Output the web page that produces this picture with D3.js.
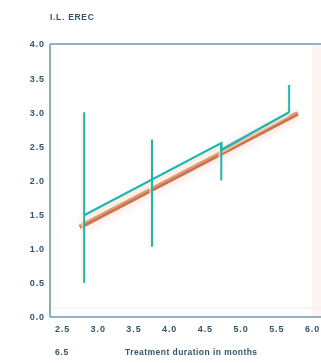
<!DOCTYPE html>
<html>
<head>
<meta charset="utf-8">
<script src="https://cdn.jsdelivr.net/npm/d3@7"></script>
<style>
  html, body { margin: 0; padding: 0; background: #fff; }
  svg { display: block; }
  text { font-family: "Liberation Sans", Arial, sans-serif; fill: #34546a; }
</style>
</head>
<body>
<script>
// Tick labels
const xTicks = [2.5, 3.0, 3.5, 4.0, 4.5, 5.0, 5.5, 6.0];
const yTicks = [0.0, 0.5, 1.0, 1.5, 2.0, 2.5, 3.0, 3.5, 4.0];

// Range bars (months, low, high)
const barMonths = [2.81, 3.76, 4.73, 5.68];
const barLow    = [0.5, 1.03, 2.0, 3.0];
const barHigh   = [3.0, 2.6, 2.55, 3.4];

// Observed trend (teal polyline)
const trendMonths = [2.81, 4.73, 4.73, 5.68];
const trendValues = [1.49, 2.55, 2.45, 3.0];

// Fitted line (orange)
const fitMonths = [2.75, 5.8];
const fitValues = [1.32, 2.98];

const W = 321, H = 363;
const svg = d3.select("body").append("svg").attr("width", W).attr("height", H);

const x = d3.scaleLinear().domain([2.5, 6.0]).range([62, 312]);
const y = d3.scaleLinear().domain([0, 4]).range([317, 44]);

const defs = svg.append("defs");
defs.append("filter").attr("id", "soft").append("feGaussianBlur").attr("stdDeviation", 0.6);
defs.append("filter").attr("id", "haze").append("feGaussianBlur").attr("stdDeviation", 3);
defs.append("filter").attr("id", "txt").append("feGaussianBlur").attr("stdDeviation", 0.35);

// faint background haze at the right edge
svg.append("rect").attr("x", 312).attr("y", 44).attr("width", 9).attr("height", 273)
  .attr("fill", "#fdf1ec").attr("opacity", 0.7);

// frame lines
const frame = svg.append("g").attr("stroke", "#6f9ab0").attr("stroke-width", 1.6).attr("fill", "none");
frame.append("line").attr("x1", 50).attr("x2", W).attr("y1", y(4)).attr("y2", y(4));
frame.append("line").attr("x1", 50).attr("x2", 50).attr("y1", y(4)).attr("y2", y(0));
frame.append("line").attr("x1", 50).attr("x2", W).attr("y1", y(0)).attr("y2", y(0));
svg.append("line").attr("x1", 52).attr("x2", W).attr("y1", y(0) - 9).attr("y2", y(0) - 9)
  .attr("stroke", "#f3ebea").attr("stroke-width", 1);

const styleTicks = sel => sel.attr("font-size", 9).attr("font-weight", "bold").attr("letter-spacing", 0.9)
  .style("fill", "#34546a").attr("font-family", "Liberation Sans, Arial, sans-serif").attr("filter", "url(#txt)");

// y tick labels
const yAxis = d3.axisLeft(y).tickValues(yTicks).tickFormat(d3.format(".1f")).tickSize(0).tickPadding(5);
const gy = svg.append("g").attr("transform", "translate(50,0)").call(yAxis);
gy.select(".domain").remove();
gy.selectAll("text").call(styleTicks);

// x tick labels
const xAxis = d3.axisBottom(x).tickValues(xTicks).tickFormat(d3.format(".1f")).tickSize(0).tickPadding(9);
const gx = svg.append("g").attr("transform", `translate(0,${y(0)})`).call(xAxis);
gx.select(".domain").remove();
gx.selectAll("text").call(styleTicks);

// header and axis titles
svg.append("text").attr("x", 50).attr("y", 20).attr("font-size", 8.5).attr("font-weight", "bold")
  .attr("letter-spacing", 0.7).attr("filter", "url(#txt)").text("I.L. EREC");
svg.append("text").attr("x", 55).attr("y", 355).attr("font-size", 8.5).attr("font-weight", "bold")
  .attr("letter-spacing", 0.7).attr("filter", "url(#txt)").text("6.5");
svg.append("text").attr("x", 125).attr("y", 355).attr("font-size", 8.5).attr("font-weight", "bold")
  .attr("letter-spacing", 0.45).attr("filter", "url(#txt)").text("Treatment duration in months");

const line = d3.line().x(d => x(d[0])).y(d => y(d[1]));
const fitPts = fitMonths.map((m, i) => [m, fitValues[i]]);
const trendPts = trendMonths.map((m, i) => [m, trendValues[i]]);

// fitted line: soft halo, body, highlight
svg.append("path").datum(fitPts).attr("d", line).attr("fill", "none")
  .attr("stroke", "#f3b5a8").attr("stroke-width", 12).attr("opacity", 0.3).attr("filter", "url(#haze)");
svg.append("path").datum(fitPts).attr("d", line).attr("fill", "none")
  .attr("stroke", "#c9734f").attr("stroke-width", 4.5).attr("filter", "url(#soft)");
svg.append("path").datum(fitPts).attr("d", line).attr("fill", "none")
  .attr("stroke", "#e6a07a").attr("stroke-width", 1.4).attr("transform", "translate(0,-1.2)");

// pale fringe next to the teal marks
svg.append("g").selectAll("line").data(barMonths).join("line")
  .attr("x1", d => x(d) - 2).attr("x2", d => x(d) - 2)
  .attr("y1", (d, i) => y(barHigh[i])).attr("y2", (d, i) => y(barLow[i]))
  .attr("stroke", "#f8f3cf").attr("stroke-width", 1.5).attr("opacity", 0.7);
svg.append("path").datum(trendPts).attr("d", line).attr("fill", "none")
  .attr("stroke", "#f4efc6").attr("stroke-width", 1.5).attr("transform", "translate(0,3)").attr("opacity", 0.7);

// range bars
svg.append("g").selectAll("line").data(barMonths).join("line")
  .attr("x1", d => x(d)).attr("x2", d => x(d))
  .attr("y1", (d, i) => y(barHigh[i])).attr("y2", (d, i) => y(barLow[i]))
  .attr("stroke", "#20b4b4").attr("stroke-width", 2);

// trend polyline
svg.append("path").datum(trendPts).attr("d", line).attr("fill", "none")
  .attr("stroke", "#20b4b4").attr("stroke-width", 2.2).attr("stroke-linejoin", "miter");
</script>
</body>
</html>
